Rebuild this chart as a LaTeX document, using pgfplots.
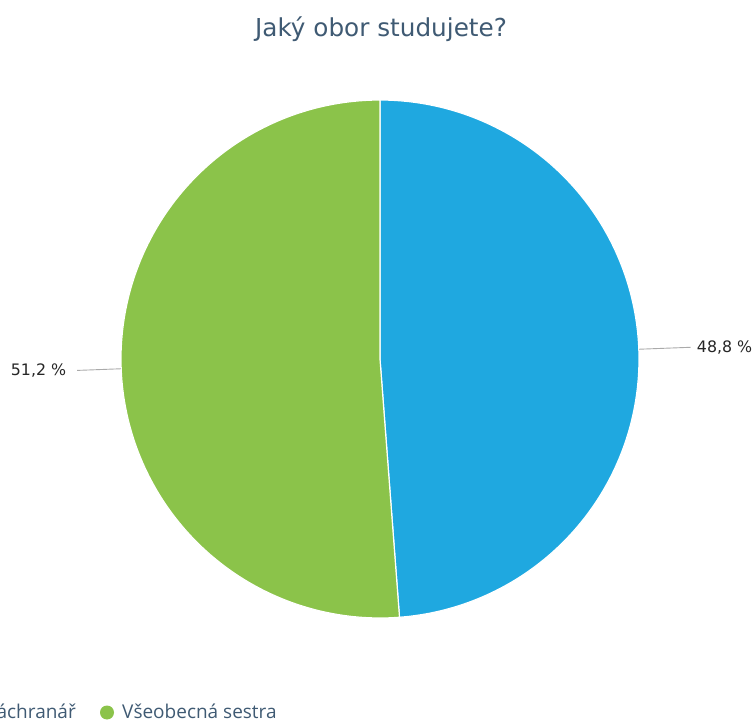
\documentclass[border=0pt]{standalone}
\usepackage{pgfplots}
\pgfplotsset{compat=1.18}
\usepackage{fontspec}
\setmainfont{DejaVu Sans}
\newfontfamily\legfont{Open Sans}
\definecolor{pieblue}{HTML}{1FA8E0}
\definecolor{piegreen}{HTML}{8BC34A}
\definecolor{titlecol}{HTML}{3F5A73}
\definecolor{leadcol}{HTML}{AAAAAA}
\begin{document}
\begin{tikzpicture}[x=1pt,y=1pt]
\def\va{48.8}\def\vb{51.2}
\pgfmathsetmacro\angA{90-3.6*\va}
\pgfmathsetmacro\angAlow{\angA-3.6*\vb}
\pgfmathsetmacro\midA{90-1.8*\va}
\pgfmathsetmacro\midB{\angA-1.8*\vb}
\begin{axis}[at={(380pt,365pt)}, anchor=center, x=259pt, y=259pt,
  xmin=-1, xmax=1, ymin=-1, ymax=1, hide axis, clip=false, scale only axis]
\addplot[fill=pieblue, draw=white, line width=1.2pt, domain=\angA:90, samples=160, variable=\t]
  ({cos(\t)},{sin(\t)}) -- (axis cs:0,0) -- cycle;
\addplot[fill=piegreen, draw=white, line width=1.2pt, domain=\angAlow:\angA, samples=160, variable=\t]
  ({cos(\t)},{sin(\t)}) -- (axis cs:0,0) -- cycle;
\draw[leadcol, line width=0.9pt] (axis cs:{cos(\midA)},{sin(\midA)}) -- (axis cs:{1.2*cos(\midA)},{1.2*sin(\midA)});
\draw[leadcol, line width=0.9pt] (axis cs:{cos(\midB)},{sin(\midB)}) -- (axis cs:{1.17*cos(\midB)},{1.17*sin(\midB)});
\node[anchor=west, inner sep=0pt, font=\fontsize{15.8}{18}\selectfont, text=black!85] at (axis cs:{1.224*cos(\midA)},{1.224*sin(\midA)}) {48,8 \%};
\node[anchor=east, inner sep=0pt, font=\fontsize{15.8}{18}\selectfont, text=black!85] at (axis cs:{1.212*cos(\midB)},{1.212*sin(\midB)}) {51,2 \%};
\end{axis}
\node[anchor=base, text=titlecol, font=\fontsize{24.7}{29}\selectfont, inner sep=0pt] at (381,687) {Jaký obor studujete?};
% legend
\node[anchor=base east, text=titlecol, font=\legfont\fontsize{19}{22}\selectfont, inner sep=0pt] (z) at (76,6) {Zdravotnický záchranář};
\fill[pieblue] ([xshift=-15pt,yshift=5.5pt]z.base west) circle (7);
\fill[piegreen] (107,11.5) circle (7);
\node[anchor=base west, text=titlecol, font=\legfont\fontsize{19}{22}\selectfont, inner sep=0pt] at (122,6) {Všeobecná sestra};
\pgfresetboundingbox
\useasboundingbox (0,0) rectangle (753,724);
\end{tikzpicture}
\end{document}
